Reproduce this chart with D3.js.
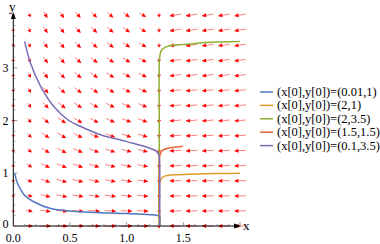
<!DOCTYPE html>
<html><head><meta charset="utf-8">
<script src="https://cdn.jsdelivr.net/npm/d3@7"></script>
<style>body{margin:0;background:#fff}svg{display:block}</style>
</head><body><svg id="c" width="380" height="244"></svg>
<script>
// ---- data ----
const xTicks = [0.0, 0.5, 1.0, 1.5];
const xTickLabels = ["0.0", "0.5", "1.0", "1.5"];
const yTicks = [0, 1, 2, 3];
const yTickLabels = ["0", "1", "2", "3"];
const gridX = [0, 1/7, 2/7, 3/7, 4/7, 5/7, 6/7, 1, 8/7, 9/7, 10/7, 11/7, 12/7, 13/7, 2];
const gridY = [0, 2/7, 4/7, 6/7, 8/7, 10/7, 12/7, 2, 16/7, 18/7, 20/7, 22/7, 24/7, 26/7, 4];
const switchX = 1.29;
const seriesNames = ["(x[0],y[0])=(0.01,1)", "(x[0],y[0])=(2,1)", "(x[0],y[0])=(2,3.5)", "(x[0],y[0])=(1.5,1.5)", "(x[0],y[0])=(0.1,3.5)"];
const colors = ["#4f79be", "#e19c24", "#8fb032", "#eb6235", "#7a6cb5"];
const blueX = [0.01, 0.018, 0.03, 0.06, 0.1, 0.18, 0.33, 0.47, 0.77, 1.0, 1.21, 1.27, 1.29, 1.29];
const blueY = [1.0, 0.95, 0.85, 0.71, 0.58, 0.46, 0.33, 0.29, 0.25, 0.235, 0.215, 0.2, 0.18, 0];
const orangeX = [2, 1.85, 1.705, 1.55, 1.41, 1.34, 1.31, 1.295, 1.29, 1.29];
const orangeY = [1.0, 0.995, 0.99, 0.98, 0.97, 0.95, 0.91, 0.85, 0.8, 0];
const greenX = [2, 1.85, 1.705, 1.56, 1.41, 1.354, 1.31, 1.295, 1.288, 1.288, 1.288];
const greenY = [3.5, 3.49, 3.48, 3.45, 3.43, 3.40, 3.34, 3.25, 3.1, 2.0, 0];
const redX = [1.495, 1.45, 1.41, 1.34, 1.31, 1.295, 1.29, 1.29];
const redY = [1.51, 1.50, 1.49, 1.46, 1.42, 1.35, 1.3, 0];
const purpleX = [0.1, 0.15, 0.24, 0.355, 0.49, 0.59, 0.77, 1.0, 1.21, 1.266, 1.285, 1.29, 1.29];
const purpleY = [3.5, 3.1, 2.65, 2.27, 2.0, 1.89, 1.73, 1.6, 1.47, 1.41, 1.34, 1.25, 0];

// direction field of the piecewise system
function field(x, y) {
  if (Math.abs(x - switchX) < 0.02) return {u: 0, v: -1, s: 0.2};
  if (x < switchX) {
    const u = (x + 0.3) * Math.min(1, x / 0.14);
    const v = -0.25 * y;
    const s = Math.min(1, 3 * x) * (1 - 0.11 * y);
    return {u, v, s};
  }
  return {u: -1, v: -0.04 * y, s: 1};
}

// ---- drawing ----
const FONT = "'Liberation Serif', 'Times New Roman', 'DejaVu Serif', serif";
const svg = d3.select("#c");
const x = d3.scaleLinear().domain([0, 2]).range([13.3, 240]);
const y = d3.scaleLinear().domain([0, 4]).range([226, 15]);

// vector field
const fg = svg.append("g");
gridX.forEach(gx => gridY.forEach(gy => {
  const f = field(gx, gy);
  const px = x(gx), py = y(gy);
  const dxp = f.u, dyp = -f.v;
  const m = Math.hypot(dxp, dyp) || 1;
  const ux = dxp / m, uy = dyp / m;
  const L = 3 + 9 * Math.max(0, f.s);
  const tx = px - ux * L / 2, ty = py - uy * L / 2;
  const hx = px + ux * L / 2, hy = py + uy * L / 2;
  const hl = Math.min(4.5, L * 0.6), hw = 2;
  const bx = hx - ux * hl, by = hy - uy * hl;
  fg.append("line").attr("x1", tx).attr("y1", ty).attr("x2", bx).attr("y2", by)
    .attr("stroke", "#ff0000").attr("stroke-opacity", 0.5).attr("stroke-width", 1);
  fg.append("path").attr("d", `M${hx},${hy}L${bx - uy * hw},${by + ux * hw}L${bx + uy * hw},${by - ux * hw}Z`)
    .attr("fill", "#ff0000");
}));

// axes
const ax = svg.append("g").attr("stroke", "#000");
ax.append("line").attr("x1", x(0)).attr("y1", y(0)).attr("x2", 237).attr("y2", y(0)).attr("stroke-width", 1);
ax.append("path").attr("d", `M241,${y(0)}L234,${y(0) - 2.5}L234,${y(0) + 2.5}Z`).attr("fill", "#000").attr("stroke", "none");
ax.append("line").attr("x1", x(0)).attr("y1", y(0)).attr("x2", x(0)).attr("y2", 16).attr("stroke-width", 1);
ax.append("path").attr("d", `M${x(0)},12L${x(0) - 2.5},19L${x(0) + 2.5},19Z`).attr("fill", "#000").attr("stroke", "none");
d3.range(0, 2.0001, 0.1).forEach(v => {
  const major = Math.abs(v * 2 - Math.round(v * 2)) < 1e-6;
  ax.append("line").attr("x1", x(v)).attr("x2", x(v)).attr("y1", y(0)).attr("y2", y(0) - (major ? 4 : 2)).attr("stroke-width", 0.6).attr("stroke", "#555");
});
d3.range(0, 3.95, 0.2).forEach(v => {
  const major = Math.abs(v - Math.round(v)) < 1e-6;
  ax.append("line").attr("y1", y(v)).attr("y2", y(v)).attr("x1", x(0)).attr("x2", x(0) + (major ? 4 : 2)).attr("stroke-width", 0.6).attr("stroke", "#555");
});
svg.selectAll(".xt").data(xTicks).join("text").attr("x", d => x(d)).attr("y", 242)
  .attr("text-anchor", "middle").attr("font-family", FONT).attr("font-size", 12).text((d, i) => xTickLabels[i]);
svg.selectAll(".yt").data(yTicks).join("text").attr("x", 8.5).attr("y", d => y(d) + (d === 0 ? 2 : 4))
  .attr("text-anchor", "end").attr("font-family", FONT).attr("font-size", 12).text((d, i) => yTickLabels[i]);
svg.append("text").attr("x", 243).attr("y", 230).attr("font-family", FONT).attr("font-size", 13).text("x");
svg.append("text").attr("x", 9).attr("y", 11).attr("font-family", FONT).attr("font-size", 13).text("y");

// trajectories
const lineC = d3.line().x(d => x(d[0])).y(d => y(d[1])).curve(d3.curveCatmullRom);
const series = [[blueX, blueY], [orangeX, orangeY], [greenX, greenY], [redX, redY], [purpleX, purpleY]];
series.forEach((s, i) => {
  const pts = s[0].map((v, k) => [v, s[1][k]]);
  svg.append("path").attr("d", lineC(pts)).attr("fill", "none")
    .attr("stroke", colors[i]).attr("stroke-width", 1.5);
});

// legend
const lg = svg.append("g");
seriesNames.forEach((n, i) => {
  const yy = 92 + i * 13.4;
  lg.append("line").attr("x1", 260).attr("x2", 273).attr("y1", yy).attr("y2", yy)
    .attr("stroke", colors[i]).attr("stroke-width", 1.5);
  lg.append("text").attr("x", 277).attr("y", yy + 4).attr("font-family", FONT).attr("font-size", 12.5).text(n);
});
</script></body></html>
